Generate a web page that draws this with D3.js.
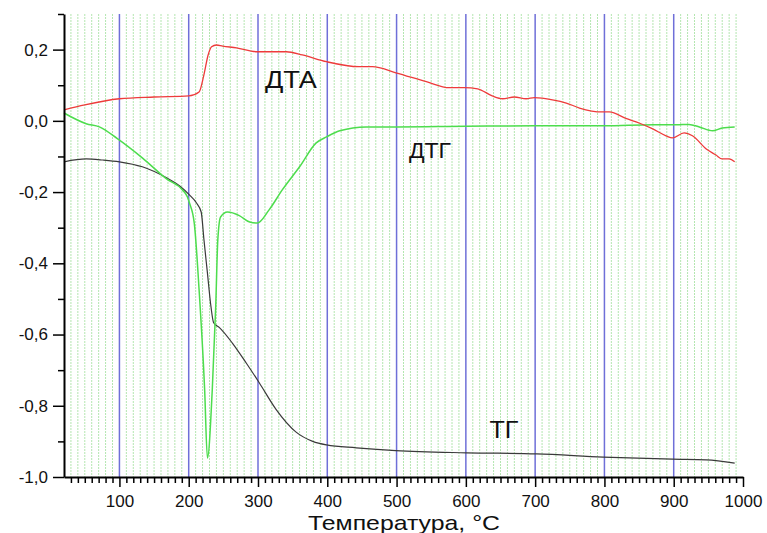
<!DOCTYPE html>
<html>
<head>
<meta charset="utf-8">
<script src="https://cdn.jsdelivr.net/npm/d3@7"></script>
<style>
  body { margin: 0; background: #fff; }
  text { font-family: "Liberation Sans", Arial, sans-serif; }
</style>
</head>
<body>
<svg id="svg"></svg>
<script>
// data (temperature, value)
let dtaT = [20, 50, 100, 150, 200, 215, 222, 228, 233, 240, 249, 269, 299, 341, 364, 399, 446, 465, 499, 543, 576, 598, 617, 638, 653, 670, 687, 699, 725, 745, 764, 797, 807, 832, 850, 869, 889, 898, 915, 927, 947, 961, 970, 980, 988];
let dtaV = [0.031, 0.045, 0.062, 0.067, 0.070, 0.081, 0.13, 0.185, 0.208, 0.213, 0.21, 0.205, 0.194, 0.194, 0.185, 0.166, 0.152, 0.152, 0.135, 0.11, 0.093, 0.093, 0.09, 0.07, 0.062, 0.067, 0.062, 0.065, 0.059, 0.05, 0.036, 0.025, 0.025, 0.006, -0.006, -0.022, -0.042, -0.048, -0.034, -0.042, -0.079, -0.096, -0.107, -0.107, -0.115];

let dtgT = [20, 52, 71, 97, 133, 168, 191, 198, 201, 208, 215, 223, 227, 234, 239, 242, 246, 256, 273, 288, 299, 316, 335, 360, 384, 399, 418, 456, 499, 600, 700, 800, 870, 904, 922, 937, 956, 970, 988];
let dtgV = [0.022, -0.008, -0.017, -0.05, -0.104, -0.163, -0.194, -0.213, -0.23, -0.287, -0.475, -0.755, -0.947, -0.755, -0.52, -0.334, -0.27, -0.256, -0.266, -0.284, -0.287, -0.25, -0.194, -0.129, -0.062, -0.045, -0.028, -0.017, -0.017, -0.015, -0.014, -0.014, -0.011, -0.011, -0.01, -0.017, -0.028, -0.02, -0.017];

let tgT = [20, 52, 76, 100, 133, 168, 187, 201, 211, 218, 222, 227, 232, 236, 244, 263, 283, 302, 326, 355, 379, 399, 442, 499, 601, 702, 798, 898, 947, 988];
let tgV = [-0.115, -0.107, -0.11, -0.115, -0.129, -0.16, -0.183, -0.208, -0.23, -0.256, -0.334, -0.427, -0.52, -0.567, -0.58, -0.624, -0.68, -0.736, -0.81, -0.874, -0.90, -0.91, -0.918, -0.926, -0.932, -0.935, -0.944, -0.95, -0.952, -0.961];

let xMajor = [100, 200, 300, 400, 500, 600, 700, 800, 900, 1000];
let yMajor = [0.2, 0, -0.2, -0.4, -0.6, -0.8, -1.0];
let yMinor = [0.3, 0.1, -0.1, -0.3, -0.5, -0.7, -0.9];
let xLabel = "Температура, °С";

let width = 767, height = 533;
let svg = d3.select("#svg").attr("width", width).attr("height", height);

let xScale = d3.scaleLinear().domain([20, 1000]).range([64, 743]);
let yScale = d3.scaleLinear().domain([-1.0, 0.3]).range([477, 14]);

let xMinor = d3.range(30, 1000, 10).filter(d => d % 100 !== 0);

// grid
let grid = svg.append("g");
grid.selectAll("line.minor")
    .data(xMinor)
    .join("line")
    .attr("class", "minor")
    .attr("x1", d => xScale(d)).attr("x2", d => xScale(d))
    .attr("y1", yScale(0.3)).attr("y2", yScale(-1.0))
    .attr("stroke", "#b4e6b0")
    .attr("stroke-width", 1)
    .attr("stroke-dasharray", "2,1");
grid.selectAll("line.major")
    .data(xMajor.filter(d => d < 1000))
    .join("line")
    .attr("class", "major")
    .attr("x1", d => xScale(d)).attr("x2", d => xScale(d))
    .attr("y1", yScale(0.3)).attr("y2", yScale(-1.0))
    .attr("stroke", "#6f6fd8")
    .attr("stroke-width", 1.5);

// curves
let line = d3.line().x(d => xScale(d[0])).y(d => yScale(d[1])).curve(d3.curveMonotoneX);
let series = [
    { t: tgT, v: tgV, color: "#3a3a3a", w: 1.2 },
    { t: dtgT, v: dtgV, color: "#4ddd4d", w: 1.5 },
    { t: dtaT, v: dtaV, color: "#ee3b3b", w: 1.3 }
];
svg.append("g").selectAll("path")
    .data(series)
    .join("path")
    .attr("d", s => line(s.t.map((t, i) => [t, s.v[i]])))
    .attr("fill", "none")
    .attr("stroke", s => s.color)
    .attr("stroke-width", s => s.w);

// axes
let fmt = d => (d < -0.001 ? "-" : "") + Math.abs(d).toFixed(1).replace(".", ",");

let yAxis = svg.append("g").attr("transform", `translate(${xScale(20)},0)`);
yAxis.call(d3.axisLeft(yScale).tickValues(yMajor).tickFormat(fmt).tickSize(11).tickPadding(5).tickSizeOuter(0));
let yAxisMinor = svg.append("g").attr("transform", `translate(${xScale(20)},0)`);
yAxisMinor.call(d3.axisLeft(yScale).tickValues(yMinor).tickFormat("").tickSize(6).tickSizeOuter(0));
yAxisMinor.select(".domain").remove();

let xAxis = svg.append("g").attr("transform", `translate(0,${yScale(-1.0)})`);
xAxis.call(d3.axisBottom(xScale).tickValues(xMajor).tickFormat(d3.format("d")).tickSize(10).tickPadding(8).tickSizeOuter(0));
let xAxisMinor = svg.append("g").attr("transform", `translate(0,${yScale(-1.0)})`);
xAxisMinor.call(d3.axisBottom(xScale).tickValues(xMinor).tickFormat("").tickSize(6).tickSizeOuter(0));
xAxisMinor.select(".domain").remove();

svg.selectAll(".domain").attr("stroke", "#000").attr("stroke-width", 2);
svg.selectAll(".tick line").attr("stroke", "#000").attr("stroke-width", 1.5);
svg.selectAll(".tick text").attr("font-size", 17).attr("fill", "#111")
    .style("font-family", "'Liberation Sans', Arial, sans-serif");

// curve labels
let labels = [
    { text: "ДТА", t: 310, v: 0.093, len: 52, size: 23 },
    { text: "ДТГ", t: 518, v: -0.104, len: 42, size: 22 },
    { text: "ТГ", t: 634, v: -0.890, len: 29, size: 23 }
];
svg.append("g").selectAll("text")
    .data(labels)
    .join("text")
    .attr("x", d => xScale(d.t))
    .attr("y", d => yScale(d.v))
    .attr("font-size", d => d.size)
    .attr("textLength", d => d.len)
    .attr("lengthAdjust", "spacingAndGlyphs")
    .attr("fill", "#111")
    .text(d => d.text);

svg.append("text")
    .attr("x", 308)
    .attr("y", 530)
    .attr("font-size", 21)
    .attr("textLength", 192)
    .attr("lengthAdjust", "spacingAndGlyphs")
    .attr("fill", "#111")
    .text(xLabel);
</script>
</body>
</html>
